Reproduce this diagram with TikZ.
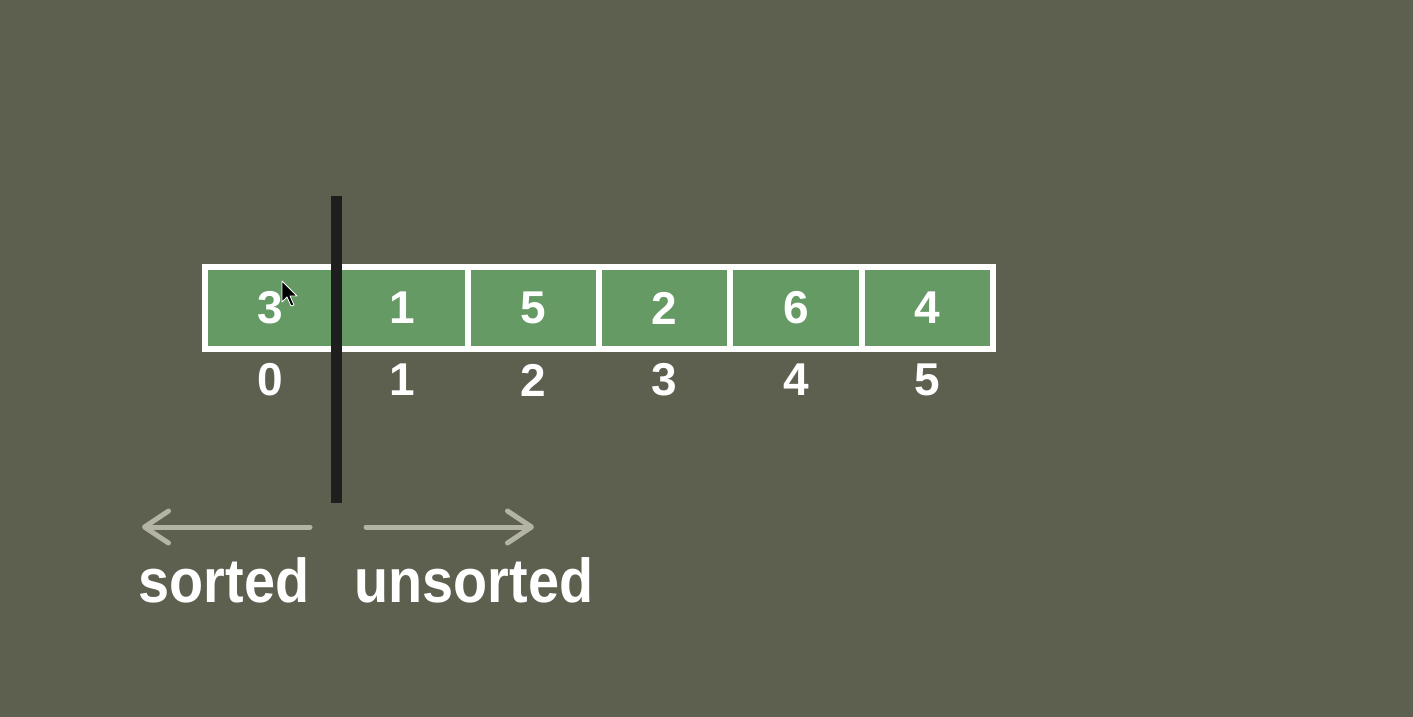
\documentclass[tikz,border=0pt]{standalone}
\usepackage{fontspec}
\setmainfont{Liberation Sans}
\usetikzlibrary{arrows.meta}
\definecolor{bgcol}{HTML}{5E604F}
\definecolor{cellgreen}{HTML}{659A64}
\definecolor{barcol}{HTML}{1E1E1E}
\definecolor{arrowcol}{HTML}{B4B4A4}
\tikzset{
  cell/.style={draw=white, line width=6pt, fill=cellgreen, minimum width=131.3pt, minimum height=82pt, inner sep=0pt,
    font=\fontsize{46}{46}\selectfont\bfseries, text=white},
  idx/.style={font=\fontsize{46}{46}\selectfont\bfseries, text=white, inner sep=0pt},
  lbl/.style={font=\fontsize{62}{62}\selectfont\bfseries, text=white, inner sep=0pt},
  sidearrow/.style={draw=arrowcol, line width=5pt, line cap=round,
    -{Straight Barb[length=24pt, width=32pt, line cap=round, line join=round]}},
}
\begin{document}
\begin{tikzpicture}[x=1pt,y=-1pt]
\fill[bgcol] (0,0) rectangle (1413,717);
\useasboundingbox (0,0) rectangle (1413,717);
% array cells
\foreach \v [count=\i from 0] in {3,1,5,2,6,4}{
  \node[cell] (c\i) at (205+131.3*\i+65.65, 308) {\v};
  \node[idx] (i\i) at (205+131.3*\i+65.65, 380) {\i};
}
% mouse cursor
\filldraw[fill=black, draw=white, line width=0.8pt, line join=round]
  (282,281) -- (282,302) -- (287,297) -- (291,306) -- (294,305) -- (290,296) -- (297,296) -- cycle;
% divider bar
\fill[barcol] (331,196) rectangle (342,503);
% arrows
\coordinate (ls) at (310,527);
\coordinate (le) at (142,527);
\coordinate (rs) at (366,527);
\coordinate (re) at (534,527);
\draw[sidearrow] (ls) -- (le);
\draw[sidearrow] (rs) -- (re);
% labels
\node[lbl] (sorted) at (224,580) {\scalebox{0.9}[1]{sorted}};
\node[lbl] (unsorted) at (474,580) {\scalebox{0.9}[1]{unsorted}};
\end{tikzpicture}
\end{document}
